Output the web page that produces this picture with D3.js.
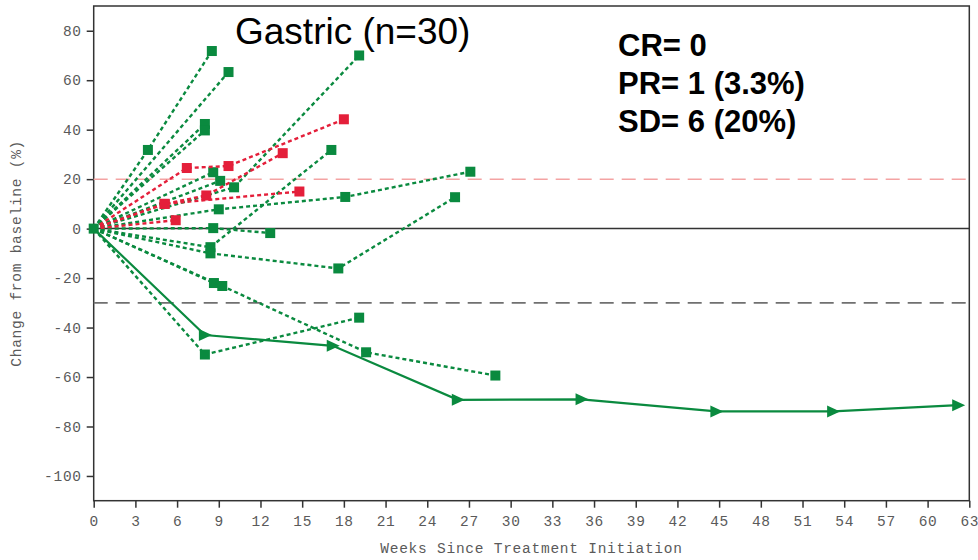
<!DOCTYPE html>
<html>
<head>
<meta charset="utf-8">
<script src="https://cdn.jsdelivr.net/npm/d3@7"></script>
<style>
  html, body { margin: 0; padding: 0; background: #fff; }
  svg { display: block; }
  .axis text { font-family: "Liberation Mono", "Courier New", monospace; font-size: 14.5px; fill: #5a5a5a; letter-spacing: 0.7px; }
  .axis path, .axis line { stroke: #333; stroke-width: 1.5; }
  .axis-title { font-family: "Liberation Mono", "Courier New", monospace; font-size: 14.5px; fill: #5a5a5a; letter-spacing: 0.75px; }
</style>
</head>
<body>
<svg id="chart" width="978" height="560"></svg>
<script>
// Axis ticks
const xTicks = d3.range(0, 64, 3);
const yTicks = [-100, -80, -60, -40, -20, 0, 20, 40, 60, 80];

// Text
const title = "Gastric (n=30)";
const summary = ["CR= 0", "PR= 1 (3.3%)", "SD= 6 (20%)"];
const xLabel = "Weeks Since Treatment Initiation";
const yLabel = "Change from baseline (%)";

// Reference levels: progression (+20%), baseline, partial response (-30%)
const progressionLevel = 20;
const baselineLevel = 0;
const responseLevel = -30;

// Patients with progressive disease: [week, % change]
const progressing = [
  [[0, 0], [6.7, 24.5], [9.7, 25.3], [18.0, 44.2]],
  [[0, 0], [5.1, 10.0], [8.1, 13.4], [13.6, 30.5]],
  [[0, 0], [5.1, 10.0], [14.8, 15.0]],
  [[0, 0], [5.9, 3.4]]
];

// Other patients, dotted green: [week, % change]
const otherPatients = [
  [[0, 0], [3.9, 31.8], [8.5, 71.8]],
  [[0, 0], [9.7, 63.3]],
  [[0, 0], [8.0, 42.3]],
  [[0, 0], [8.0, 39.7]],
  [[0, 0], [10.1, 16.7], [19.1, 70.0]],
  [[0, 0], [8.4, -7.5], [17.1, 31.8]],
  [[0, 0], [8.6, 22.8]],
  [[0, 0], [9.1, 19.3]],
  [[0, 0], [9.0, 7.8], [18.1, 12.8], [27.1, 23.0]],
  [[0, 0], [8.6, 0.2], [12.7, -1.8]],
  [[0, 0], [8.4, -10.0], [17.6, -16.1], [26.0, 12.7]],
  [[0, 0], [8.65, -22.0]],
  [[0, 0], [9.25, -23.2], [19.6, -50.0], [28.9, -59.4]],
  [[0, 0], [8.0, -50.9], [19.1, -36.0]]
];

// Ongoing partial responder, solid line with arrows
const ongoingResponder = [
  [0, 0], [8.0, -43.0], [17.2, -47.4], [26.2, -69.2], [35.1, -69.0],
  [44.8, -73.9], [53.2, -73.9], [62.2, -71.4]
];

const green = "#0a8a3f";
const red = "#e41f3a";

const svg = d3.select("#chart");
const margin = { left: 93.7, top: 6, right: 978 - 969.3, bottom: 560 - 500.7 };
const W = 978, H = 560;

const x = d3.scaleLinear().domain([0, 63]).range([margin.left, W - margin.right]);
const y = d3.scaleLinear().domain([-110, 90]).range([H - margin.bottom, margin.top]);

// Frame
svg.append("rect")
  .attr("x", x(0)).attr("y", y(90))
  .attr("width", x(63) - x(0)).attr("height", y(-110) - y(90))
  .attr("fill", "none").attr("stroke", "#333").attr("stroke-width", 1.5);

// Axes
const xAxis = svg.append("g").attr("class", "axis")
  .attr("transform", `translate(0,${y(-110)})`)
  .call(d3.axisBottom(x).tickValues(xTicks).tickSize(7).tickPadding(8).tickSizeOuter(0));
const yAxis = svg.append("g").attr("class", "axis")
  .attr("transform", `translate(${x(0)},0)`)
  .call(d3.axisLeft(y).tickValues(yTicks).tickSize(7).tickPadding(5).tickSizeOuter(0)
    .tickFormat(d => String(d)));
xAxis.select(".domain").remove();
yAxis.select(".domain").remove();

// Axis titles
svg.append("text").attr("class", "axis-title")
  .attr("x", (x(0) + x(63)) / 2).attr("y", 553)
  .attr("text-anchor", "middle")
  .text(xLabel);
svg.append("text").attr("class", "axis-title")
  .attr("transform", `translate(21,${(y(90) + y(-110)) / 2}) rotate(-90)`)
  .attr("text-anchor", "middle")
  .text(yLabel);

// Reference lines
svg.append("line")
  .attr("x1", x(0)).attr("x2", x(63))
  .attr("y1", y(progressionLevel)).attr("y2", y(progressionLevel))
  .attr("stroke", "#f4a3a3").attr("stroke-width", 1.5).attr("stroke-dasharray", "14,8");
svg.append("line")
  .attr("x1", x(0)).attr("x2", x(63))
  .attr("y1", y(responseLevel)).attr("y2", y(responseLevel))
  .attr("stroke", "#707070").attr("stroke-width", 1.8).attr("stroke-dasharray", "14,8");
svg.append("line")
  .attr("x1", x(0)).attr("x2", x(63))
  .attr("y1", y(baselineLevel)).attr("y2", y(baselineLevel))
  .attr("stroke", "#333").attr("stroke-width", 1.5);

const line = d3.line().x(d => x(d[0])).y(d => y(d[1]));

function drawPatient(points, color) {
  const g = svg.append("g");
  g.append("path").datum(points).attr("d", line)
    .attr("fill", "none").attr("stroke", color)
    .attr("stroke-width", 2.4).attr("stroke-dasharray", "4,3");
  g.selectAll("rect").data(points.slice(1)).join("rect")
    .attr("x", d => x(d[0]) - 5).attr("y", d => y(d[1]) - 5)
    .attr("width", 10).attr("height", 10)
    .attr("fill", color);
}

otherPatients.forEach(p => drawPatient(p, green));
progressing.forEach(p => drawPatient(p, red));

// Ongoing responder
const resp = svg.append("g");
resp.append("path").datum(ongoingResponder).attr("d", line)
  .attr("fill", "none").attr("stroke", green).attr("stroke-width", 2.2);
resp.selectAll("path.arrow").data(ongoingResponder.slice(1)).join("path")
  .attr("class", "arrow")
  .attr("d", d => {
    const cx = x(d[0]), cy = y(d[1]);
    return `M${cx - 6},${cy - 6}L${cx + 7},${cy}L${cx - 6},${cy + 6}Z`;
  })
  .attr("fill", green);

// Baseline marker
svg.append("rect")
  .attr("x", x(0) - 5).attr("y", y(0) - 5).attr("width", 10).attr("height", 10)
  .attr("fill", green);

// Title and summary
svg.append("text")
  .attr("x", 235).attr("y", 44)
  .style("font-family", "'Liberation Sans', Arial, sans-serif")
  .style("font-size", "37px").style("fill", "#000")
  .text(title);

svg.append("g").selectAll("text").data(summary).join("text")
  .attr("x", 618).attr("y", (d, i) => 56 + i * 38)
  .style("font-family", "'Liberation Sans', Arial, sans-serif")
  .style("font-size", "31px").style("font-weight", "bold").style("fill", "#000")
  .text(d => d);
</script>
</body>
</html>
